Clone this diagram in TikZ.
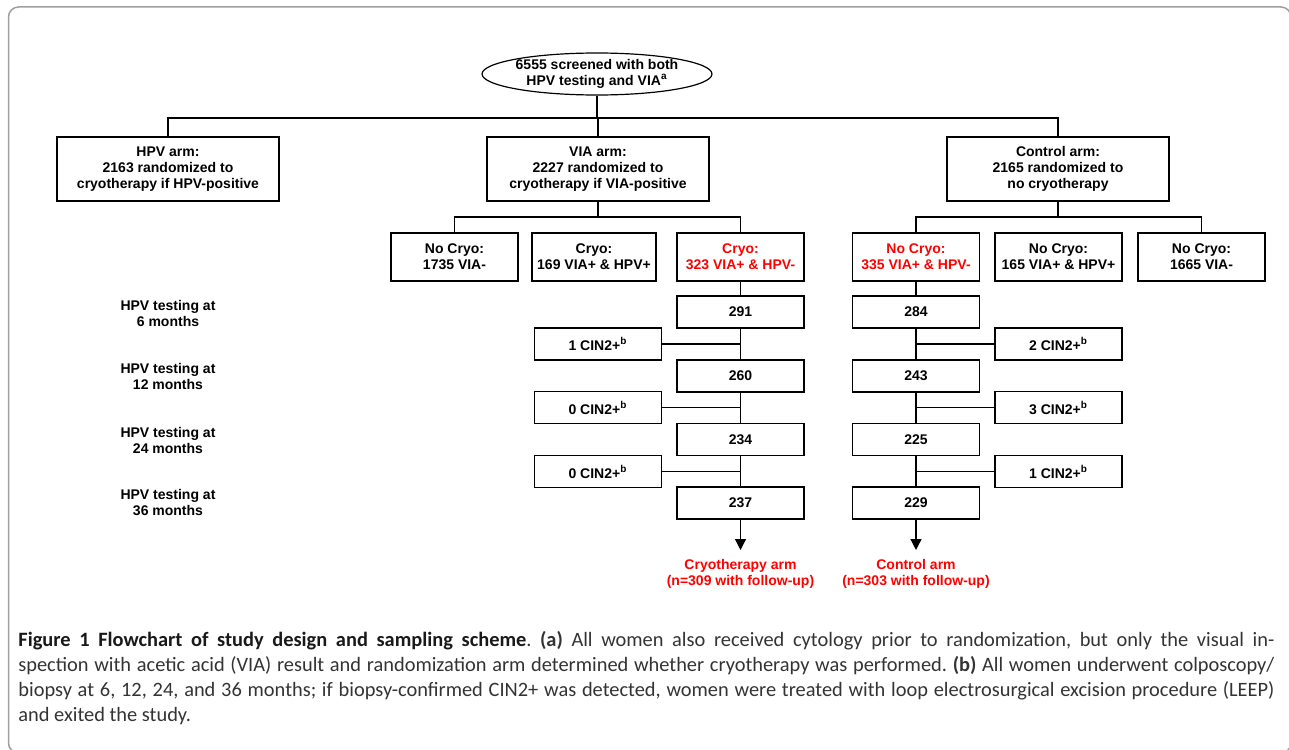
\documentclass[tikz,border=0pt]{standalone}
\usepackage{fontspec}
\setmainfont{Liberation Sans}
\newfontfamily\capfont{Carlito}
\usetikzlibrary{arrows.meta,shapes.geometric}

\begin{document}
\begin{tikzpicture}[x=0.5pt,y=-0.5pt,
  every node/.style={font=\bfseries\fontsize{7}{8}\selectfont, align=center},
  armbox/.style={draw, line width=0.65pt, minimum width=111pt, minimum height=32pt, inner sep=0pt},
  subbox/.style={draw, line width=0.65pt, minimum width=63.5pt, minimum height=24pt, inner sep=0pt},
  fubox/.style={draw, line width=0.65pt, minimum width=63.5pt, minimum height=16pt, inner sep=0pt},
  conn/.style={line width=0.6pt},
  arr/.style={conn, -{Triangle[width=5.5pt,length=5.5pt]}},
  redtxt/.style={text=red}]
\useasboundingbox (0,0) rectangle (1289,749);

% frame
\begin{scope}
\clip (0,0) rectangle (1289,749);
\draw[gray!75, line width=0.75pt, rounded corners=5pt] (8.5,7) rectangle (1291,753);
\end{scope}

\coordinate (bar1) at (0,118);
\coordinate (bar2) at (0,217);

\node[draw, ellipse, line width=0.6pt, minimum width=113pt, minimum height=21pt, inner sep=0pt] (screen) at (597,74)
  {6555 screened with both\\HPV testing and VIA\textsuperscript{a}};

\node[armbox] (hpvarm) at (168,169) {HPV arm:\\2163 randomized to\\cryotherapy if HPV-positive};
\node[armbox] (viaarm) at (598,169) {VIA arm:\\2227 randomized to\\cryotherapy if VIA-positive};
\node[armbox] (ctrlarm) at (1058,169) {Control arm:\\2165 randomized to\\no cryotherapy};

\node[subbox] (nc1735) at (454.5,257) {No Cryo:\\1735 VIA-};
\node[subbox, minimum width=62pt] (c169) at (594,257) {Cryo:\\169 VIA+ \& HPV+};
\node[subbox, redtxt] (c323) at (740.5,257) {Cryo:\\323 VIA+ \& HPV-};
\node[subbox, redtxt] (nc335) at (916,257) {No Cryo:\\335 VIA+ \& HPV-};
\node[subbox] (nc165) at (1058.5,257) {No Cryo:\\165 VIA+ \& HPV+};
\node[subbox] (nc1665) at (1201.5,257) {No Cryo:\\1665 VIA-};

% follow-up rows
\node (lab6) at (168,313) {HPV testing at\\6 months};
\node (lab12) at (168,376) {HPV testing at\\12 months};
\node (lab24) at (168,440) {HPV testing at\\24 months};
\node (lab36) at (168,503) {HPV testing at\\36 months};

\node[fubox] (cryo6) at (740.5,312) {291};
\node[fubox] (cryo12) at (740.5,376) {260};
\node[fubox] (cryo24) at (740.5,439.5) {234};
\node[fubox] (cryo36) at (740.5,503) {237};

\node[fubox] (ctrl6) at (916,312) {284};
\node[fubox] (ctrl12) at (916,376) {243};
\node[fubox] (ctrl24) at (916,439.5) {225};
\node[fubox] (ctrl36) at (916,503) {229};

\node[fubox] (cinA1) at (598,344) {1 CIN2+\textsuperscript{b}};
\node[fubox] (cinA2) at (598,407.5) {0 CIN2+\textsuperscript{b}};
\node[fubox] (cinA3) at (598,471.5) {0 CIN2+\textsuperscript{b}};
\node[fubox] (cinB1) at (1058.5,344) {2 CIN2+\textsuperscript{b}};
\node[fubox] (cinB2) at (1058.5,407.5) {3 CIN2+\textsuperscript{b}};
\node[fubox] (cinB3) at (1058.5,471.5) {1 CIN2+\textsuperscript{b}};

\coordinate (tipA) at (740.5,550);
\coordinate (tipB) at (916,550);
\node[redtxt] (endcryo) at (740.5,574) {Cryotherapy arm\\(n=309 with follow-up)};
\node[redtxt] (endctrl) at (916,574) {Control arm\\(n=303 with follow-up)};

% tree lines
\draw[conn] (screen.south) -- (screen.south |- bar1);
\draw[conn] (hpvarm.north) -- (hpvarm.north |- bar1) -| (ctrlarm.north);
\draw[conn] (viaarm.north) -- (viaarm.north |- bar1);
\draw[conn] (viaarm.south) -- (viaarm.south |- bar2);
\draw[conn] (nc1735.north) -- (nc1735.north |- bar2) -| (c323.north);
\draw[conn] (ctrlarm.south) -- (ctrlarm.south |- bar2);
\draw[conn] (nc335.north) -- (nc335.north |- bar2) -| (nc1665.north);

% cryotherapy column
\draw[conn] (c323.south) -- (cryo6.north);
\draw[conn] (cryo6.south) -- (cryo12.north);
\draw[conn] (cryo12.south) -- (cryo24.north);
\draw[conn] (cryo24.south) -- (cryo36.north);
\draw[arr] (cryo36.south) -- (tipA);
\draw[conn] (cinA1.east) -- (cinA1.east -| cryo6.south);
\draw[conn] (cinA2.east) -- (cinA2.east -| cryo12.south);
\draw[conn] (cinA3.east) -- (cinA3.east -| cryo24.south);

% control column
\draw[conn] (nc335.south) -- (ctrl6.north);
\draw[conn] (ctrl6.south) -- (ctrl12.north);
\draw[conn] (ctrl12.south) -- (ctrl24.north);
\draw[conn] (ctrl24.south) -- (ctrl36.north);
\draw[arr] (ctrl36.south) -- (tipB);
\draw[conn] (cinB1.west) -- (cinB1.west -| ctrl6.south);
\draw[conn] (cinB2.west) -- (cinB2.west -| ctrl12.south);
\draw[conn] (cinB3.west) -- (cinB3.west -| ctrl24.south);

% caption
\node[anchor=north west, inner sep=0pt, text width=628pt, align=justify, text=black!80,
  font=\capfont\fontsize{10.2}{12.5}\selectfont\frenchspacing] (caption) at (18,631)
  {{\bfseries\color{black!90}Figure 1 Flowchart of study design and sampling scheme}. {\bfseries (a)} All women also received cytology prior to randomization, but only the visual in-\linebreak spection with acetic acid (VIA) result and randomization arm determined whether cryotherapy was performed. {\bfseries (b)} All women underwent colposcopy/\linebreak biopsy at 6, 12, 24, and 36 months; if biopsy-confirmed CIN2+ was detected, women were treated with loop electrosurgical excision procedure (LEEP)\linebreak and exited the study.};
\end{tikzpicture}
\end{document}
